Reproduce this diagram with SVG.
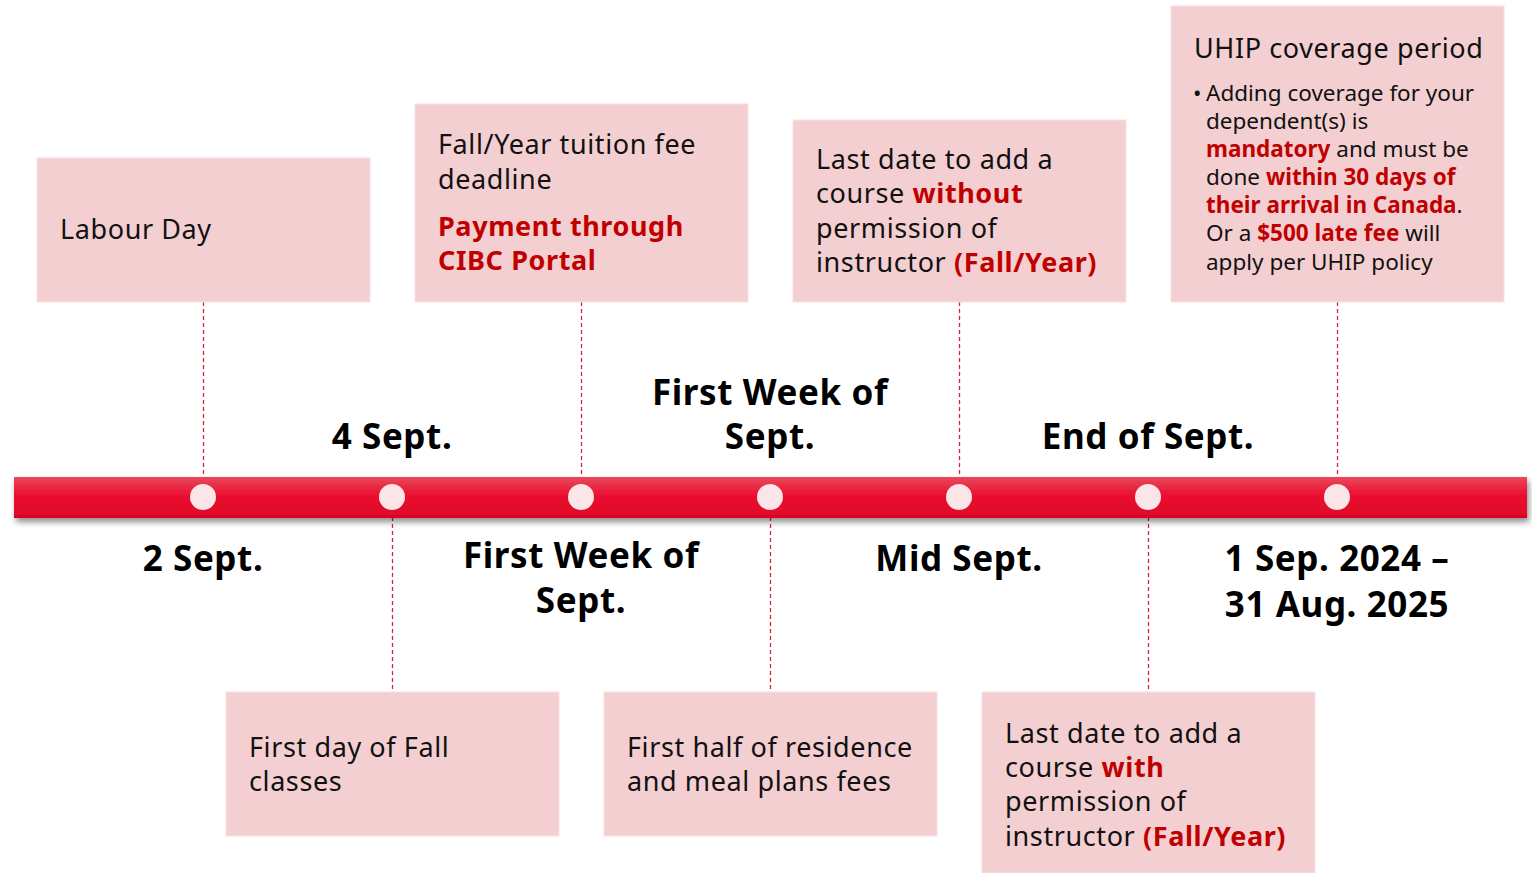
<svg xmlns="http://www.w3.org/2000/svg" width="1532" height="873" viewBox="0 0 1532 873">
<defs>
<linearGradient id="barGrad" x1="0" y1="0" x2="0" y2="1">
<stop offset="0" stop-color="#E9495B"/>
<stop offset="0.45" stop-color="#EA0F30"/>
<stop offset="1" stop-color="#DC0527"/>
</linearGradient>
<filter id="shadow" x="-2%" y="-40%" width="104%" height="200%">
<feGaussianBlur in="SourceAlpha" stdDeviation="3"/>
<feOffset dx="2" dy="4" result="b"/>
<feComponentTransfer><feFuncA type="linear" slope="0.45"/></feComponentTransfer>
<feMerge><feMergeNode/><feMergeNode in="SourceGraphic"/></feMerge>
</filter>
</defs>
<style>
.box{fill:#F4CFD1;stroke:#F9E0E1;stroke-width:1}
.t{font-family:"Noto Sans","Liberation Sans",sans-serif;font-size:27px;letter-spacing:0.6px;fill:#111}
.s{font-family:"Noto Sans","Liberation Sans",sans-serif;font-size:22.5px;fill:#111}
.r{fill:#C00000;font-weight:bold}
.d{font-family:"Noto Sans","Liberation Sans",sans-serif;font-size:35px;letter-spacing:0.6px;font-weight:bold;fill:#000;text-anchor:middle}
.c{stroke:#E0203A;stroke-width:1.3;stroke-dasharray:4 3;fill:none}
.dot{fill:#FBE5E8}
</style>
<g id="connectors">
<line class="c" x1="203.5" y1="302" x2="203.5" y2="478"/>
<line class="c" x1="581.5" y1="302" x2="581.5" y2="478"/>
<line class="c" x1="959.5" y1="302" x2="959.5" y2="478"/>
<line class="c" x1="1337.5" y1="302" x2="1337.5" y2="478"/>
<line class="c" x1="392.5" y1="517" x2="392.5" y2="692"/>
<line class="c" x1="770.5" y1="517" x2="770.5" y2="692"/>
<line class="c" x1="1148.5" y1="517" x2="1148.5" y2="692"/>
</g>
<g id="timeline">
<rect x="14" y="477" width="1513" height="41" fill="url(#barGrad)" filter="url(#shadow)"/>
<circle class="dot" cx="203" cy="497" r="13"/>
<circle class="dot" cx="392" cy="497" r="13"/>
<circle class="dot" cx="581" cy="497" r="13"/>
<circle class="dot" cx="770" cy="497" r="13"/>
<circle class="dot" cx="959" cy="497" r="13"/>
<circle class="dot" cx="1148" cy="497" r="13"/>
<circle class="dot" cx="1337" cy="497" r="13"/>
</g>
<g id="labour-day">
<rect class="box" x="37" y="158" width="333" height="144"/>
<text class="t" x="60" y="239">Labour Day</text>
</g>
<g id="date-2-sept"><text class="d" x="203" y="571">2 Sept.</text></g>
<g id="tuition">
<rect class="box" x="415" y="104" width="333" height="198"/>
<text class="t" x="438" y="154">Fall/Year tuition fee</text>
<text class="t" x="438" y="189">deadline</text>
<text class="t r" x="438" y="236">Payment through</text>
<text class="t r" x="438" y="270">CIBC Portal</text>
</g>
<g id="date-4-sept"><text class="d" x="392" y="449">4 Sept.</text></g>
<g id="first-day">
<rect class="box" x="226" y="692" width="333" height="144"/>
<text class="t" x="249" y="757">First day of Fall</text>
<text class="t" x="249" y="791">classes</text>
</g>
<g id="date-first-week-1"><text class="d" x="581" y="568">First Week of</text><text class="d" x="581" y="613">Sept.</text></g>
<g id="date-first-week-2"><text class="d" x="770" y="405">First Week of</text><text class="d" x="770" y="449">Sept.</text></g>
<g id="residence">
<rect class="box" x="604" y="692" width="333" height="144"/>
<text class="t" x="627" y="757">First half of residence</text>
<text class="t" x="627" y="791">and meal plans fees</text>
</g>
<g id="add-without">
<rect class="box" x="793" y="120" width="333" height="182"/>
<text class="t" x="816" y="169">Last date to add a</text>
<text class="t" x="816" y="203">course <tspan class="r">without</tspan></text>
<text class="t" x="816" y="238">permission of</text>
<text class="t" x="816" y="272">instructor <tspan class="r">(Fall/Year)</tspan></text>
</g>
<g id="date-mid-sept"><text class="d" x="959" y="571">Mid Sept.</text></g>
<g id="date-end-sept"><text class="d" x="1148" y="449">End of Sept.</text></g>
<g id="add-with">
<rect class="box" x="982" y="692" width="333" height="181"/>
<text class="t" x="1005" y="743">Last date to add a</text>
<text class="t" x="1005" y="777">course <tspan class="r">with</tspan></text>
<text class="t" x="1005" y="811">permission of</text>
<text class="t" x="1005" y="846">instructor <tspan class="r">(Fall/Year)</tspan></text>
</g>
<g id="uhip">
<rect class="box" x="1171" y="6" width="333" height="296"/>
<text class="t" x="1194" y="58">UHIP coverage period</text>
<text class="s" x="1193" y="101">•</text>
<text class="s" x="1206" y="101">Adding coverage for your</text>
<text class="s" x="1206" y="129">dependent(s) is</text>
<text class="s" x="1206" y="157"><tspan class="r">mandatory</tspan> and must be</text>
<text class="s" x="1206" y="185">done <tspan class="r">within 30 days of</tspan></text>
<text class="s" x="1206" y="213"><tspan class="r">their arrival in Canada</tspan>.</text>
<text class="s" x="1206" y="241">Or a <tspan class="r">$500 late fee</tspan> will</text>
<text class="s" x="1206" y="270">apply per UHIP policy</text>
</g>
<g id="date-uhip"><text class="d" x="1337" y="571">1 Sep. 2024 –</text><text class="d" x="1337" y="617">31 Aug. 2025</text></g>
</svg>
